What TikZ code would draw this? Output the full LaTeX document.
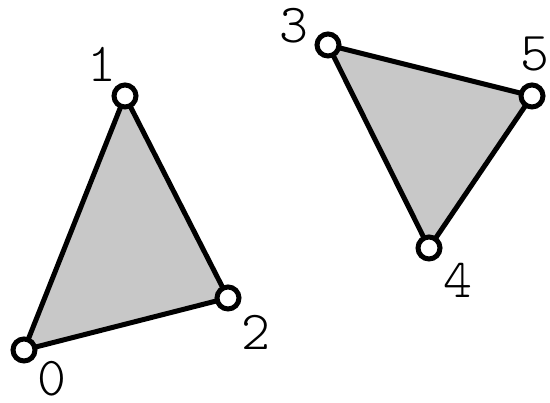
\documentclass[tikz,border=0pt]{standalone}
\usepackage{fontspec}
\setmonofont{Latin Modern Mono Light}
\begin{document}
\begin{tikzpicture}[x=1pt,y=1pt,
  vtx/.style={circle,draw=black,fill=white,line width=5pt,minimum size=22pt,inner sep=0pt},
  edge/.style={line width=5pt,line join=round},
  lbl/.style={font=\ttfamily\fontsize{55}{55}\selectfont,inner sep=0pt}]
\useasboundingbox (0,0) rectangle (550,403);
\coordinate (c0) at (24,53);
\coordinate (c1) at (125,307);
\coordinate (c2) at (228,105);
\coordinate (c3) at (328,358);
\coordinate (c4) at (429,155);
\coordinate (c5) at (532,307);
\fill[fill={rgb,255:red,200;green,200;blue,200}] (c0) -- (c1) -- (c2) -- cycle;
\fill[fill={rgb,255:red,200;green,200;blue,200}] (c3) -- (c4) -- (c5) -- cycle;
\draw[edge] (c0) -- (c1) -- (c2) -- cycle;
\draw[edge] (c3) -- (c4) -- (c5) -- cycle;
\node[vtx] (v0) at (c0) {};
\node[vtx] (v1) at (c1) {};
\node[vtx] (v2) at (c2) {};
\node[vtx] (v3) at (c3) {};
\node[vtx] (v4) at (c4) {};
\node[vtx] (v5) at (c5) {};
\node[lbl] (l0) at (52,24) {0};
\node[lbl] (l1) at (102,339) {1};
\node[lbl] (l2) at (256,71) {2};
\node[lbl] (l3) at (294,377) {3};
\node[lbl] (l4) at (458,123) {4};
\node[lbl] (l5) at (535,349) {5};
\end{tikzpicture}
\end{document}
